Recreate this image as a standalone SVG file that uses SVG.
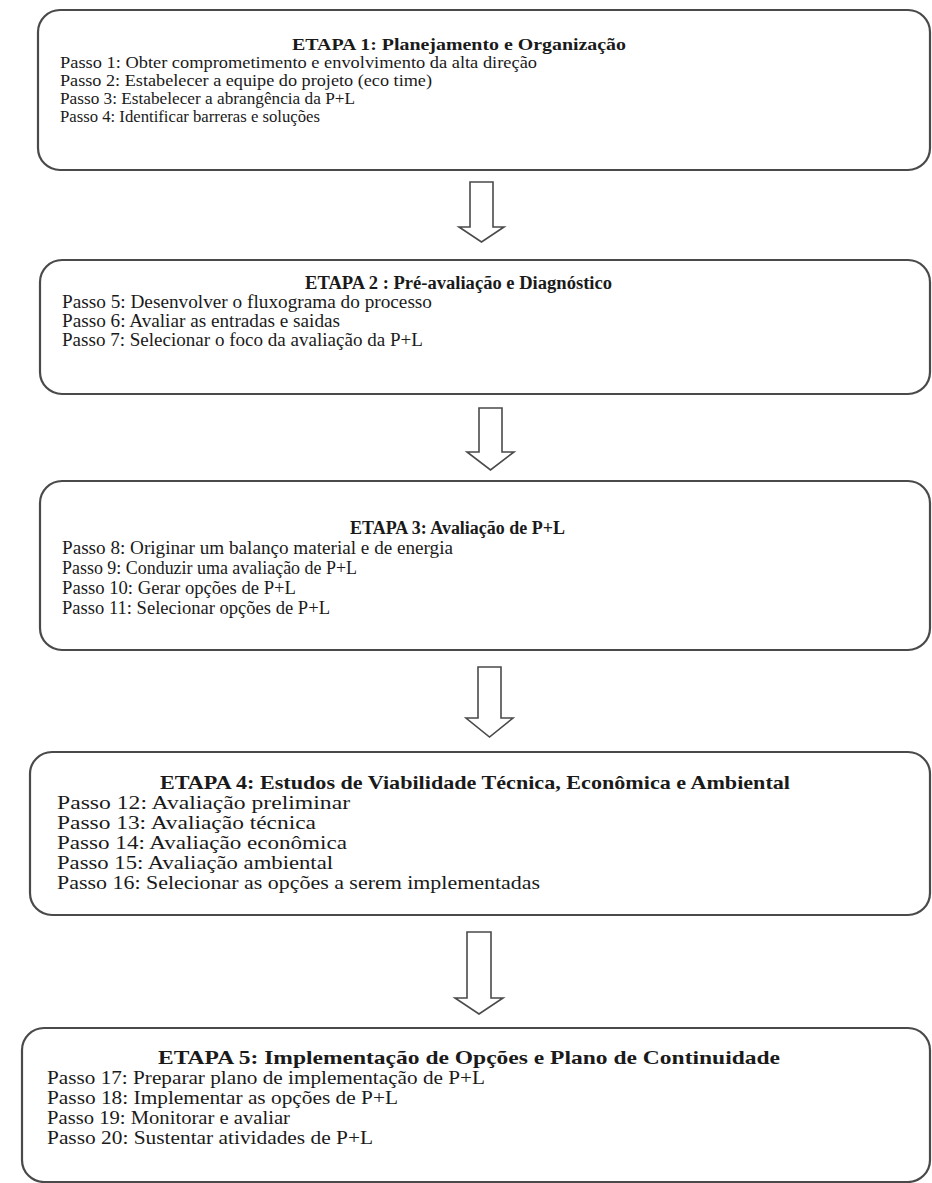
<svg xmlns="http://www.w3.org/2000/svg" width="932" height="1183" viewBox="0 0 932 1183">
<style>
.box{fill:#ffffff;stroke:#4a4a4a;stroke-width:2.2}
.arr{fill:#ffffff;stroke:#4a4a4a;stroke-width:1.6;stroke-linejoin:miter}
text{font-family:"Liberation Serif","Times New Roman",serif;fill:#1a1a1a}
.t{font-weight:bold;text-anchor:start}
.s1{font-size:17.5px}
.s2{font-size:18.5px}
.s4{font-size:19.5px}
</style>
<rect width="932" height="1183" fill="#ffffff"/>
<g id="connectors">
<path class="arr" d="M470,182 H493 V227 H504 L481.5,242 L459,227 H470 Z"/>
<path class="arr" d="M479,408 H502 V452 H514 L490.5,470 L467,452 H479 Z"/>
<path class="arr" d="M478,667 H501 V718 H513 L489.5,737 L466,718 H478 Z"/>
<path class="arr" d="M467,932 H491 V998 H503 L479,1014 L455,998 H467 Z"/>
</g>
<g id="etapa1">
<rect class="box" x="38" y="10" width="892" height="160" rx="22"/>
<text class="t s1" x="292" y="50" textLength="334" lengthAdjust="spacingAndGlyphs">ETAPA 1: Planejamento e Organização</text>
<text class="s1" x="60" y="68" textLength="477" lengthAdjust="spacingAndGlyphs">Passo 1: Obter comprometimento  e envolvimento da alta direção</text>
<text class="s1" x="60" y="86" textLength="372" lengthAdjust="spacingAndGlyphs">Passo 2: Estabelecer  a equipe do projeto (eco time)</text>
<text class="s1" x="60" y="104" textLength="295" lengthAdjust="spacingAndGlyphs">Passo 3: Estabelecer  a abrangência  da P+L</text>
<text class="s1" x="60" y="122" textLength="260" lengthAdjust="spacingAndGlyphs">Passo 4: Identificar  barreras  e soluções</text>
</g>
<g id="etapa2">
<rect class="box" x="40" y="260" width="890" height="134" rx="22"/>
<text class="t s2" x="305" y="289" textLength="307" lengthAdjust="spacingAndGlyphs">ETAPA 2 : Pré-avaliação e Diagnóstico</text>
<text class="s2" x="62" y="308" textLength="370" lengthAdjust="spacingAndGlyphs">Passo 5: Desenvolver o fluxograma do processo</text>
<text class="s2" x="62" y="327" textLength="278" lengthAdjust="spacingAndGlyphs">Passo 6: Avaliar as entradas  e saidas</text>
<text class="s2" x="62" y="346" textLength="361" lengthAdjust="spacingAndGlyphs">Passo 7: Selecionar o foco da avaliação  da P+L</text>
</g>
<g id="etapa3">
<rect class="box" x="40" y="481" width="890" height="169" rx="22"/>
<text class="t s2" x="350" y="534" textLength="215" lengthAdjust="spacingAndGlyphs">ETAPA 3: Avaliação de P+L</text>
<text class="s2" x="62" y="554" textLength="391" lengthAdjust="spacingAndGlyphs">Passo 8: Originar um balanço material  e de energia</text>
<text class="s2" x="62" y="574" textLength="295" lengthAdjust="spacingAndGlyphs">Passo 9: Conduzir uma avaliação  de P+L</text>
<text class="s2" x="62" y="594" textLength="234" lengthAdjust="spacingAndGlyphs">Passo 10: Gerar opções de P+L</text>
<text class="s2" x="62" y="614" textLength="268" lengthAdjust="spacingAndGlyphs">Passo 11: Selecionar  opções de P+L</text>
</g>
<g id="etapa4">
<rect class="box" x="30" y="752" width="900" height="163" rx="22"/>
<text class="t s4" x="160" y="789" textLength="630" lengthAdjust="spacingAndGlyphs">ETAPA 4: Estudos de Viabilidade Técnica, Econômica e Ambiental</text>
<text class="s4" x="57" y="809" textLength="293" lengthAdjust="spacingAndGlyphs">Passo 12: Avaliação  preliminar</text>
<text class="s4" x="57" y="829" textLength="259" lengthAdjust="spacingAndGlyphs">Passo 13: Avaliação  técnica</text>
<text class="s4" x="57" y="849" textLength="290" lengthAdjust="spacingAndGlyphs">Passo 14: Avaliação  econômica</text>
<text class="s4" x="57" y="869" textLength="276" lengthAdjust="spacingAndGlyphs">Passo 15: Avaliação  ambiental</text>
<text class="s4" x="57" y="889" textLength="483" lengthAdjust="spacingAndGlyphs">Passo 16: Selecionar  as opções a serem implementadas</text>
</g>
<g id="etapa5">
<rect class="box" x="22" y="1028" width="908" height="154" rx="22"/>
<text class="t s4" x="158" y="1064" textLength="622" lengthAdjust="spacingAndGlyphs">ETAPA 5: Implementação de Opções e Plano de Continuidade</text>
<text class="s4" x="47" y="1084" textLength="438" lengthAdjust="spacingAndGlyphs">Passo 17: Preparar plano de implementação  de P+L</text>
<text class="s4" x="47" y="1104" textLength="351" lengthAdjust="spacingAndGlyphs">Passo 18: Implementar  as opções  de P+L</text>
<text class="s4" x="47" y="1124" textLength="243" lengthAdjust="spacingAndGlyphs">Passo 19: Monitorar  e avaliar</text>
<text class="s4" x="47" y="1144" textLength="326" lengthAdjust="spacingAndGlyphs">Passo 20: Sustentar atividades  de P+L</text>
</g>
</svg>
